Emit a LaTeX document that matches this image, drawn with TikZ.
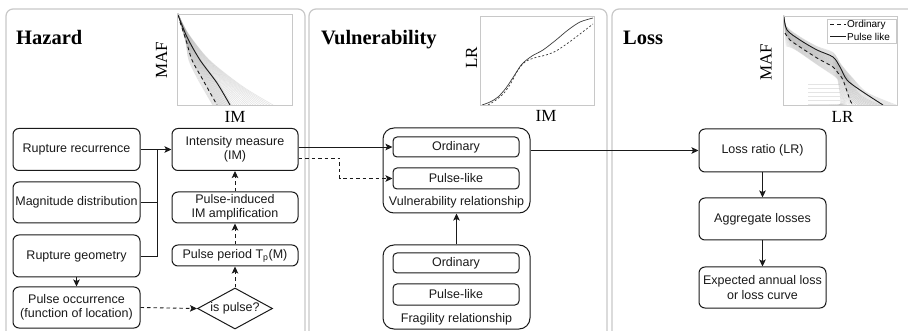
\documentclass[tikz,border=0pt]{standalone}
\usepackage{fontspec}
\setmainfont{Liberation Serif}
\setsansfont{Liberation Sans}
\usetikzlibrary{arrows.meta,shapes.geometric}
\definecolor{panelgray}{HTML}{C8C8C8}
\definecolor{ink}{HTML}{1A1A1A}
\definecolor{bandgray}{HTML}{A8A8A8}
\tikzset{
 box/.style={draw=ink, line width=1pt, rounded corners=6pt, font=\sffamily\fontsize{12.5}{14.5}\selectfont, align=center, inner sep=0pt, text=ink},
 subbox/.style={box, rounded corners=4pt},
 container/.style={draw=ink, line width=1pt, rounded corners=11pt, inner sep=0pt},
 lbl/.style={font=\sffamily\fontsize{12.5}{14.5}\selectfont, text=ink, inner sep=0pt},
 conn/.style={draw=ink, line width=0.9pt},
 arr/.style={conn, -{Stealth[length=7pt,width=6.5pt,inset=1.5pt]}},
 dsh/.style={dash pattern=on 3.5pt off 3pt},
 panel/.style={draw=panelgray, line width=1.2pt, rounded corners=7pt},
 ttl/.style={font=\bfseries\fontsize{20.5}{24}\selectfont, inner sep=0pt, anchor=base west},
 axl/.style={font=\fontsize{17}{20}\selectfont, inner sep=0pt},
 plotframe/.style={draw=panelgray, line width=0.8pt},
 bandline/.style={draw=bandgray, line width=0.6pt, opacity=0.3},
 curve/.style={draw=ink, line width=0.9pt},
 legtext/.style={font=\sffamily\fontsize{10}{12}\selectfont, inner sep=0pt, anchor=west},
}
\begin{document}
\begin{tikzpicture}[x=1pt,y=-1pt]
\clip (0,0) rectangle (908,331);
\fill[white] (0,0) rectangle (908,331);

% panels
\draw[panel] (6,345) |- (305,9) -- (305,345);
\draw[panel] (309,345) |- (607,9) -- (607,345);
\draw[panel] (612,345) |- (930,9) -- (930,345);

% titles
\node[ttl] (tH) at (16,45) {Hazard};
\node[ttl] (tV) at (321,45) {Vulnerability};
\node[ttl] (tL) at (623,45) {Loss};

% ---------- Hazard plot ----------
\begin{scope}
\clip (177,14) rectangle (292,105);
\foreach \s in {-0.4,-0.32,...,2.2} {
 \draw[bandline] plot[smooth] coordinates {(178,14) ({186+(\s)},{40-3*(\s)}) ({192+8*(\s)},60) ({203+14*(\s)+2*(\s)*(\s)},{80+3*(\s)}) ({217+13*(\s)+6*(\s)*(\s)},105)};
}
\foreach \s in {0,0.1,...,1.2} {
 \draw[bandline] plot[smooth] coordinates {(178,14) ({186+(\s)},{40-3*(\s)}) ({192+8*(\s)},60) ({203+14*(\s)},{80+3*(\s)}) ({217+13*(\s)},105)};
}
\draw[curve, dsh] plot[smooth] coordinates {(180,22) (186,40) (192,60) (203,80) (217,105)};
\draw[curve] plot[smooth] coordinates {(178,15) (187,37) (200,60) (217,83) (230,105)};
\end{scope}
\draw[plotframe] (177,14) rectangle (292,105);
\node[axl, rotate=90] (hMAF) at (161.5,60.5) {MAF};
\node[axl] (hIM) at (235,117) {IM};

% ---------- Vulnerability plot ----------
\draw[plotframe] (480,16) rectangle (594,105);
\begin{scope}
\clip (480,16) rectangle (594,105);
\draw[ink!85, line width=0.7pt] plot[smooth] coordinates {(482,105) (490,102) (498,97) (506,88) (514,76) (522,64) (532,56) (543,50) (556,40) (568,30) (580,22) (593,18)};
\draw[ink!85, line width=0.7pt, dash pattern=on 2pt off 2pt] plot[smooth] coordinates {(488,105) (496,100) (504,93) (511,83) (518,70) (525,62) (534,58) (546,55) (556,51) (568,43) (580,34) (593,24)};
\end{scope}
\node[axl, rotate=90] (vLR) at (471.5,58) {LR};
\node[axl] (vIM) at (546,116) {IM};

% ---------- Loss plot ----------
\begin{scope}
\clip (783,16) rectangle (897,105);
\foreach \s in {-0.8,-0.73,...,1.5} {
 \draw[bandline] plot[smooth] coordinates {({785-(\s)},{33-16*(\s)}) ({790-3*(\s)},{40-10*(\s)}) (800,{47-7*(\s)}) (817,{58-8*(\s)}) (833,{67-10*(\s)}) ({838+2*(\s)},{73-6*(\s)}) ({843+6*(\s)},{80-2*(\s)}) ({850+12*(\s)},{100-5*(\s)}) ({853+30*(\s)},105)};
}
\foreach \s in {0,0.1,...,1} {
 \draw[bandline] plot[smooth] coordinates {({785-(\s)},{33-16*(\s)}) ({790-3*(\s)},{40-10*(\s)}) (800,{47-7*(\s)}) (817,{58-8*(\s)}) (833,{67-10*(\s)}) ({838+2*(\s)},{73-6*(\s)}) ({843+6*(\s)},{80-2*(\s)}) ({850+12*(\s)},{100-5*(\s)}) ({853+30*(\s)},105)};
}
\foreach \yy in {84,88,...,104} {
 \draw[bandline] (808,\yy) -- (840,\yy);
}
\draw[curve, dsh] plot[smooth] coordinates {(785,33) (790,40) (800,47) (817,58) (833,67) (838,73) (843,80) (850,100) (853,105)};
\draw[curve] plot[smooth] coordinates {(784,17) (787,30) (800,40) (817,50) (833,57) (840,67) (847,80) (860,90) (883,105)};
\end{scope}
\draw[plotframe] (783,16) rectangle (897,105);
\node[draw=panelgray, fill=white, line width=0.6pt, minimum width=69pt, minimum height=24pt, inner sep=0pt] (leg) at (861.5,31) {};
\draw[ink, line width=1pt, dash pattern=on 4pt off 3pt] (830,25) -- (846,25);
\node[legtext] (legA) at (847,25) {Ordinary};
\draw[ink, line width=1pt] (830,37) -- (846,37);
\node[legtext] (legB) at (847,37) {Pulse like};
\node[axl, rotate=90] (lMAF) at (766,62.5) {MAF};
\node[axl] (lLR) at (842.5,117) {LR};

% ---------- Hazard boxes ----------
\node[box, minimum width=127pt, minimum height=42pt] (rr) at (76.5,149.5) {Rupture recurrence};
\node[box, minimum width=127pt, minimum height=41pt] (md) at (76.5,202.5) {Magnitude distribution};
\node[box, minimum width=127pt, minimum height=42pt] (rg) at (76.5,256) {Rupture geometry};
\node[box, minimum width=127pt, minimum height=41pt] (po) at (76.5,307.5) {Pulse occurrence\\(function of location)};
\node[box, minimum width=126pt, minimum height=42pt] (im) at (235,149.5) {Intensity measure\\(IM)};
\node[box, minimum width=126pt, minimum height=31pt] (pia) at (235,207.5) {Pulse-induced\\IM amplification};
\node[box, minimum width=126pt, minimum height=21pt] (pp) at (235,255.5) {Pulse period T\textsubscript{p}(M)};
\node[draw=ink, line width=1pt, diamond, aspect=1.8, minimum width=75pt, minimum height=41pt, inner sep=0pt, font=\sffamily\fontsize{12.5}{14.5}\selectfont, text=ink] (ip) at (235,308.5) {is pulse?};

\coordinate (jn) at (157,149.5);
\draw[arr] (rr.east) -- (im.west);
\draw[conn] (md.east) -| (jn);
\draw[conn] (rg.east) -| (jn);
\draw[arr, dsh] (rg.south) -- (po.north);
\draw[arr, dsh] (po.east) -- (ip.west);
\draw[arr, dsh] (ip.north) -- (pp.south);
\draw[arr, dsh] (pp.north) -- (pia.south);
\draw[arr, dsh] (pia.north) -- (im.south);

% ---------- Vulnerability boxes ----------
\node[container, minimum width=147pt, minimum height=85pt] (vr) at (456.5,170.5) {};
\node[subbox, minimum width=126pt, minimum height=20pt] (vo) at (456,147) {Ordinary};
\node[subbox, minimum width=126pt, minimum height=21pt] (vp) at (456,178.5) {Pulse-like};
\node[lbl] (vrl) at (456.5,202.5) {Vulnerability relationship};

\node[container, minimum width=147pt, minimum height=84pt] (fr) at (456.5,287) {};
\node[subbox, minimum width=126pt, minimum height=20pt] (fo) at (456,263) {Ordinary};
\node[subbox, minimum width=126pt, minimum height=21pt] (fp) at (456,294.5) {Pulse-like};
\node[lbl] (frl) at (456.5,319) {Fragility relationship};

\draw[arr] (im.east |- vo.west) -- (vo.west);
\draw[arr, dsh] ([yshift=-8.5pt]im.east) -- ++(41,0) |- (vp.west);
\draw[arr] (fr.north) -- (vr.south);

% ---------- Loss boxes ----------
\node[box, minimum width=127pt, minimum height=43pt] (lr) at (762.5,150.5) {Loss ratio (LR)};
\node[box, minimum width=127pt, minimum height=42pt] (ag) at (762.5,219) {Aggregate losses};
\node[box, minimum width=127pt, minimum height=41pt] (eal) at (762.5,287.5) {Expected annual loss\\or loss curve};

\draw[arr] (vr.east |- lr.west) -- (lr.west);
\draw[arr] (lr.south) -- (ag.north);
\draw[arr] (ag.south) -- (eal.north);
\end{tikzpicture}
\end{document}
